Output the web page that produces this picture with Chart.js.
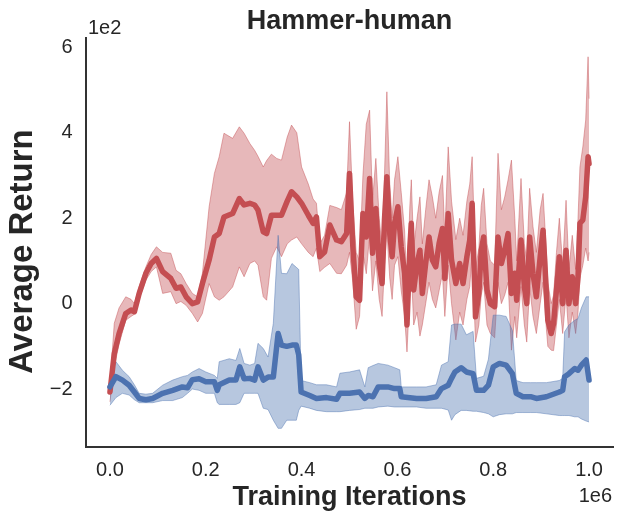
<!DOCTYPE html>
<html>
<head>
<meta charset="utf-8">
<script src="https://cdn.jsdelivr.net/npm/chart.js"></script>
<style>
  html, body { margin: 0; padding: 0; background: #fff; }
  canvas { display: block; }
</style>
</head>
<body>
<canvas id="chart" width="623" height="522"></canvas>
<script>
// values are in 1e6 iterations (x) and 1e2 return (y), like the axis offsets
const redX = [0.000,0.009,0.019,0.033,0.044,0.051,0.061,0.075,0.086,0.097,
  0.110,0.127,0.138,0.148,0.159,0.172,0.183,0.193,0.207,0.218,
  0.228,0.238,0.256,0.270,0.280,0.292,0.302,0.309,0.320,0.327,
  0.337,0.348,0.358,0.370,0.379,0.390,0.400,0.414,0.424,0.431,
  0.438,0.448,0.459,0.473,0.483,0.494,0.500,0.507,0.514,0.521,
  0.528,0.535,0.542,0.548,0.555,0.562,0.568,0.573,0.578,0.584,
  0.589,0.594,0.601,0.608,0.615,0.620,0.626,0.629,0.634,0.641,
  0.647,0.652,0.659,0.666,0.673,0.680,0.687,0.694,0.699,0.706,
  0.713,0.722,0.730,0.737,0.745,0.751,0.756,0.763,0.770,0.775,
  0.780,0.787,0.794,0.803,0.810,0.817,0.824,0.831,0.838,0.845,
  0.849,0.858,0.865,0.870,0.876,0.883,0.890,0.898,0.904,0.911,
  0.914,0.921,0.926,0.932,0.938,0.945,0.952,0.958,0.965,0.972,
  0.977,0.981,0.987,0.993,0.998,1.000];
const redMean = [-2.07,-1.17,-0.70,-0.23,-0.15,-0.19,0.24,0.71,0.94,1.06,
  0.75,0.59,0.36,0.39,0.16,0.00,0.04,0.47,1.02,1.56,
  1.64,2.03,2.11,2.46,2.31,2.35,2.31,2.19,1.68,1.64,
  2.07,2.07,2.07,2.40,2.62,2.50,2.35,2.07,1.88,2.03,
  1.10,1.21,1.84,1.49,1.45,1.64,3.05,1.33,0.16,0.08,
  2.11,1.56,2.93,1.18,2.23,0.94,0.47,1.96,2.97,1.64,
  1.10,1.88,2.27,1.33,0.71,-0.50,1.33,1.88,0.32,0.94,
  1.25,0.24,0.94,1.56,1.02,0.86,1.41,1.76,0.59,2.11,
  1.02,0.47,0.94,0.47,1.10,1.49,2.35,-0.31,0.24,1.25,
  1.56,0.32,0.00,-0.07,1.56,0.94,1.25,1.64,0.24,0.71,
  0.08,1.49,0.39,0.00,1.56,0.71,0.16,1.10,1.72,0.24,
  -0.39,-0.70,-0.46,0.32,1.10,0.00,1.25,0.00,0.63,0.00,
  0.63,1.88,1.96,2.50,3.44,3.28];
const redLow = [-2.30,-1.48,-0.95,-0.39,-0.30,-0.25,0.10,0.55,0.75,0.86,
  0.24,0.28,0.00,0.05,-0.04,-0.23,-0.43,-0.23,0.47,0.16,
  0.08,0.16,0.39,0.86,0.63,0.94,1.00,0.90,0.16,0.08,
  1.06,1.33,1.10,1.40,1.49,1.56,1.40,1.20,1.10,1.30,
  0.75,0.85,0.94,0.71,0.70,0.90,1.20,0.50,-0.60,-0.30,
  1.20,0.70,1.60,0.30,1.00,0.10,-0.30,0.90,1.70,0.60,
  0.10,0.90,1.10,0.30,-0.30,-1.13,0.30,0.80,-0.50,-0.20,
  -0.76,-0.50,0.00,0.50,0.10,-0.10,0.30,0.70,-0.30,0.90,
  0.00,-0.85,-0.20,-0.50,0.10,0.40,1.20,-0.90,-0.50,0.20,
  0.50,-0.50,-0.70,-0.80,0.50,0.00,0.20,0.50,-1.09,-0.30,
  -0.80,0.40,-0.50,-0.90,0.40,-0.30,-0.70,0.00,0.50,-0.60,
  -1.00,-1.09,-1.10,-0.50,0.10,-0.70,0.20,-0.80,-0.20,-0.70,
  -0.20,0.60,0.90,1.30,1.00,1.20];
const redHigh = [-1.90,-0.46,-0.10,0.16,0.10,0.00,0.40,0.86,1.15,1.33,
  1.20,1.18,0.78,0.70,0.47,0.24,0.16,0.71,2.27,3.05,
  3.44,3.99,3.87,4.14,3.99,3.75,3.59,3.45,3.20,3.35,
  3.50,3.40,3.36,3.90,4.18,4.00,3.20,2.80,2.45,2.35,
  1.40,1.60,2.30,2.25,2.20,2.60,4.26,2.30,1.20,1.00,
  3.00,4.20,4.53,2.40,3.40,2.00,1.30,3.00,4.96,2.80,
  2.00,2.90,3.44,2.60,1.70,0.40,2.30,2.90,1.30,2.00,
  2.50,1.40,2.20,2.90,2.50,2.00,2.60,3.00,1.60,3.67,
  2.40,1.50,2.00,1.60,2.40,2.80,3.44,0.80,1.30,2.30,
  2.70,1.40,1.00,0.90,3.52,2.20,2.50,2.90,3.36,2.00,
  1.00,2.93,1.40,1.00,2.70,1.80,1.20,2.20,2.58,1.20,
  0.50,0.00,0.20,1.20,2.00,0.90,2.42,0.80,1.60,0.80,
  2.00,3.20,3.67,4.30,5.78,4.80];

const blueX = [0.000,0.0125,0.026,0.040,0.051,0.061,0.075,0.089,0.110,0.131,
  0.151,0.162,0.172,0.186,0.200,0.218,0.224,0.228,0.249,0.263,
  0.271,0.280,0.292,0.302,0.309,0.320,0.330,0.341,0.351,0.358,
  0.369,0.380,0.389,0.394,0.399,0.417,0.431,0.452,0.473,0.480,
  0.500,0.521,0.532,0.539,0.549,0.560,0.580,0.594,0.605,0.608,
  0.640,0.660,0.681,0.692,0.706,0.713,0.720,0.733,0.744,0.758,
  0.765,0.780,0.790,0.800,0.813,0.827,0.840,0.848,0.862,0.878,
  0.890,0.911,0.938,0.945,0.949,0.958,0.970,0.977,0.984,0.994,
  1.000];
const blueMean = [-1.95,-1.71,-1.79,-1.91,-2.07,-2.22,-2.25,-2.22,-2.10,-2.03,
  -1.95,-1.97,-1.78,-1.76,-1.83,-1.83,-2.03,-1.90,-1.79,-1.79,
  -1.48,-1.76,-1.75,-1.79,-1.48,-1.79,-1.72,-1.72,-0.70,-0.97,
  -1.00,-0.97,-0.97,-1.20,-2.07,-2.15,-2.22,-2.20,-2.24,-2.10,
  -2.10,-2.07,-2.22,-2.15,-2.18,-1.95,-1.95,-1.99,-1.99,-2.18,
  -2.22,-2.22,-2.18,-1.99,-1.91,-1.75,-1.60,-1.50,-1.60,-1.64,
  -2.03,-2.03,-1.91,-1.48,-1.40,-1.44,-1.64,-2.10,-2.18,-2.18,
  -2.22,-2.18,-2.07,-2.03,-1.71,-1.64,-1.52,-1.56,-1.44,-1.32,
  -1.79];
const blueLow = [-2.38,-2.20,-2.10,-2.14,-2.25,-2.32,-2.32,-2.32,-2.27,-2.27,
  -2.20,-2.10,-2.00,-2.03,-2.10,-2.10,-2.32,-2.36,-2.36,-2.36,
  -2.32,-2.10,-2.10,-2.10,-2.10,-2.45,-2.48,-2.73,-2.92,-2.92,
  -2.73,-2.73,-2.73,-2.50,-2.40,-2.45,-2.50,-2.53,-2.53,-2.53,
  -2.50,-2.48,-2.45,-2.45,-2.45,-2.42,-2.40,-2.42,-2.42,-2.42,
  -2.42,-2.45,-2.45,-2.45,-2.49,-2.73,-2.60,-2.50,-2.50,-2.52,
  -2.52,-2.55,-2.58,-2.65,-2.60,-2.58,-2.58,-2.55,-2.55,-2.55,
  -2.55,-2.58,-2.62,-2.62,-2.62,-2.62,-2.65,-2.65,-2.70,-2.75,
  -2.77];
const blueHigh = [-1.75,-1.36,-1.56,-1.71,-1.90,-2.10,-2.12,-2.10,-1.91,-1.79,
  -1.71,-1.68,-1.60,-1.52,-1.60,-1.68,-1.75,-1.36,-1.29,-1.33,
  -1.05,-1.40,-1.44,-1.40,-0.93,-1.05,-1.25,-0.46,1.60,0.71,
  0.70,0.94,0.85,0.80,-1.80,-1.85,-1.90,-1.90,-1.95,-1.63,
  -1.60,-1.55,-1.95,-1.50,-1.45,-1.40,-1.44,-1.50,-1.55,-1.95,
  -1.95,-1.95,-1.90,-1.44,-1.36,-0.50,-0.48,-0.48,-0.73,-0.65,
  -1.75,-1.70,-1.30,-0.27,-0.27,-0.30,-0.63,-1.80,-1.85,-1.85,
  -1.85,-1.85,-1.80,-1.75,-0.66,-0.50,-0.39,-0.35,-0.10,0.16,
  0.16];

const xTicks = [0, 0.2, 0.4, 0.6, 0.8, 1.0];
const xTickLabels = ['0.0', '0.2', '0.4', '0.6', '0.8', '1.0'];
const yTicks = [-2, 0, 2, 4, 6];
const yTickLabels = ['\u22122', '0', '2', '4', '6'];

const titleText = 'Hammer-human';
const xTitle = 'Training Iterations';
const yTitle = 'Average Return';
const xOffsetText = '1e6';
const yOffsetText = '1e2';

const RED = 'rgb(196, 78, 82)';
const BLUE = 'rgb(76, 114, 176)';
const INK = '#262626';
const FONT = '"Liberation Sans", Arial, sans-serif';

function pts(xs, ys) {
    return xs.map((x, i) => ({ x: x, y: ys[i] }));
}

// lower edge of a band: thin line only
function bandLow(xs, ys, edge, order) {
    return {
        data: pts(xs, ys), borderColor: edge, borderWidth: 1,
        pointRadius: 0, fill: false, order: order
    };
}
// upper edge, filled down to the lower edge
function bandHigh(xs, ys, edge, fillColor, order) {
    return {
        data: pts(xs, ys), borderColor: edge, borderWidth: 1,
        backgroundColor: fillColor, pointRadius: 0, fill: '-1', order: order
    };
}
function meanLine(xs, ys, color, order) {
    return {
        data: pts(xs, ys), borderColor: color, borderWidth: 5.5, pointRadius: 0,
        fill: false, borderJoinStyle: 'round', borderCapStyle: 'round', order: order
    };
}

// titles, axis labels and the offset texts (1e2 / 1e6)
const textPlugin = {
    id: 'texts',
    afterDraw(chart) {
        const ctx = chart.ctx;
        const a = chart.chartArea;
        ctx.save();
        ctx.fillStyle = INK;
        ctx.textBaseline = 'alphabetic';

        ctx.font = 'bold 27px ' + FONT;
        ctx.textAlign = 'center';
        ctx.fillText(titleText, (a.left + a.right) / 2, 28.5);
        ctx.fillText(xTitle, (a.left + a.right) / 2, 505);

        ctx.save();
        ctx.translate(31.5, 251.5);
        ctx.rotate(-Math.PI / 2);
        ctx.font = 'bold 33px ' + FONT;
        ctx.fillText(yTitle, 0, 0);
        ctx.restore();

        ctx.font = '20px ' + FONT;
        ctx.textAlign = 'left';
        ctx.fillText(yOffsetText, a.left + 2, 34);
        ctx.textAlign = 'right';
        ctx.fillText(xOffsetText, a.right - 1, 501.5);
        ctx.restore();
    }
};

new Chart(document.getElementById('chart'), {
    type: 'line',
    data: {
        datasets: [
            bandLow(redX, redLow, 'rgba(196, 78, 82, 0.45)', 6),
            bandHigh(redX, redHigh, 'rgba(196, 78, 82, 0.45)', 'rgba(196, 78, 82, 0.4)', 5),
            bandLow(blueX, blueLow, 'rgba(76, 114, 176, 0.45)', 4),
            bandHigh(blueX, blueHigh, 'rgba(76, 114, 176, 0.45)', 'rgba(76, 114, 176, 0.4)', 3),
            meanLine(redX, redMean, RED, 2),
            meanLine(blueX, blueMean, BLUE, 1)
        ]
    },
    options: {
        responsive: false,
        animation: false,
        events: [],
        layout: { padding: { left: 0, right: 10, top: 38, bottom: 0 } },
        plugins: {
            legend: { display: false },
            tooltip: { enabled: false },
            filler: { propagate: false }
        },
        scales: {
            x: {
                type: 'linear',
                min: -0.05,
                max: 1.05,
                afterBuildTicks: s => { s.ticks = xTicks.map(v => ({ value: v })); },
                afterFit: s => { s.height = 75.3; },
                grid: { display: false, drawTicks: false },
                border: { display: true, color: '#333', width: 2 },
                ticks: {
                    autoSkip: false, maxRotation: 0, padding: 12,
                    color: INK, font: { family: FONT, size: 20 },
                    callback: (v, i) => xTickLabels[i]
                }
            },
            y: {
                type: 'linear',
                min: -3.35,
                max: 6.22,
                afterBuildTicks: s => { s.ticks = yTicks.map(v => ({ value: v })); },
                afterFit: s => { s.width = 86; },
                grid: { display: false, drawTicks: false },
                border: { display: true, color: '#333', width: 2 },
                ticks: {
                    autoSkip: false, padding: 13.5,
                    color: INK, font: { family: FONT, size: 20 },
                    callback: (v, i) => yTickLabels[i]
                }
            }
        }
    },
    plugins: [textPlugin]
});
</script>
</body>
</html>
